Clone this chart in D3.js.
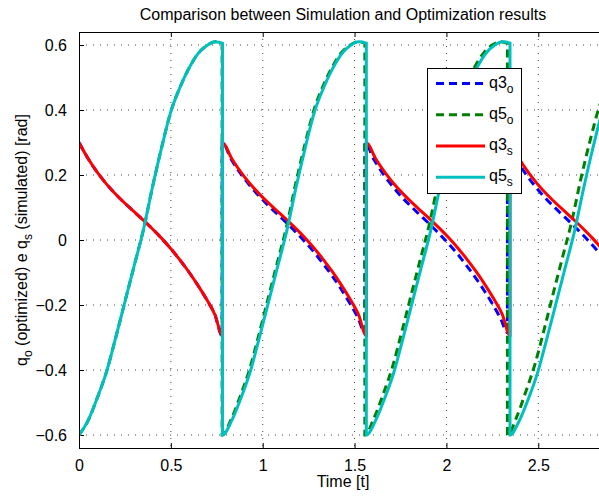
<!DOCTYPE html>
<html>
<head>
<meta charset="utf-8">
<script src="https://cdn.jsdelivr.net/npm/d3@7"></script>
<style>
  body { margin: 0; background: #fff; }
  text { font-family: "Liberation Sans", Arial, sans-serif; fill: #000; }
</style>
</head>
<body>
<svg id="chart" width="599" height="496"></svg>
<script>
// sample times inside one step (s), the last sample of each step is the impact time
const stepTau = [0, 0.05, 0.10, 0.15, 0.20, 0.25, 0.30, 0.35, 0.40, 0.45, 0.50, 0.55, 0.60, 0.65, 0.70, 0.74];

// step start / impact times
const simStart = [0, 0.781, 1.564, 2.346];
const simImpact = [0.781, 1.564, 2.346, 3.128];
const optStart = [0, 0.779, 1.556, 2.332];
const optImpact = [0.779, 1.556, 2.332, 3.109];

// values per step (16 samples at stepTau + value at impact)
const q3s = [
  [0.300, 0.250, 0.208, 0.172, 0.141, 0.113, 0.087, 0.061, 0.034, 0.005, -0.027, -0.062, -0.100, -0.142, -0.188, -0.230, -0.295],
  [0.300, 0.251, 0.209, 0.173, 0.142, 0.114, 0.088, 0.062, 0.035, 0.006, -0.026, -0.061, -0.099, -0.141, -0.187, -0.229, -0.294],
  [0.300, 0.251, 0.209, 0.173, 0.142, 0.114, 0.088, 0.062, 0.035, 0.006, -0.026, -0.061, -0.099, -0.141, -0.187, -0.229, -0.293],
  [0.300, 0.250, 0.208, 0.172, 0.141, 0.113, 0.087, 0.061, 0.034, 0.005, -0.027, -0.062, -0.100, -0.142, -0.188, -0.230, -0.295]
];
const q5s = [
  [-0.600, -0.555, -0.485, -0.405, -0.300, -0.190, -0.080, 0.030, 0.163, 0.285, 0.395, 0.470, 0.530, 0.575, 0.600, 0.610, 0.605],
  [-0.600, -0.556, -0.487, -0.407, -0.302, -0.192, -0.082, 0.028, 0.161, 0.283, 0.393, 0.468, 0.528, 0.574, 0.600, 0.610, 0.606],
  [-0.600, -0.556, -0.487, -0.407, -0.302, -0.192, -0.082, 0.028, 0.161, 0.283, 0.393, 0.468, 0.528, 0.574, 0.600, 0.610, 0.606],
  [-0.600, -0.557, -0.489, -0.409, -0.305, -0.196, -0.086, 0.024, 0.157, 0.280, 0.390, 0.466, 0.527, 0.573, 0.600, 0.610, 0.606]
];
const q3o = [
  [0.300, 0.250, 0.208, 0.172, 0.141, 0.113, 0.087, 0.061, 0.034, 0.005, -0.027, -0.062, -0.100, -0.142, -0.188, -0.230, -0.295],
  [0.300, 0.248, 0.205, 0.168, 0.136, 0.107, 0.080, 0.053, 0.025, -0.005, -0.037, -0.073, -0.111, -0.153, -0.199, -0.240, -0.285],
  [0.300, 0.247, 0.203, 0.166, 0.133, 0.104, 0.077, 0.050, 0.022, -0.008, -0.040, -0.076, -0.114, -0.156, -0.202, -0.243, -0.285],
  [0.300, 0.247, 0.203, 0.166, 0.133, 0.104, 0.077, 0.050, 0.022, -0.008, -0.040, -0.076, -0.114, -0.156, -0.202, -0.243, -0.285]
];
const q5o = [
  [-0.600, -0.555, -0.485, -0.405, -0.300, -0.190, -0.080, 0.030, 0.163, 0.285, 0.395, 0.470, 0.530, 0.575, 0.600, 0.610, 0.605],
  [-0.600, -0.551, -0.479, -0.397, -0.292, -0.181, -0.071, 0.039, 0.172, 0.292, 0.400, 0.474, 0.533, 0.577, 0.601, 0.610, 0.605],
  [-0.600, -0.548, -0.474, -0.391, -0.285, -0.174, -0.064, 0.046, 0.179, 0.298, 0.404, 0.477, 0.535, 0.578, 0.602, 0.610, 0.605],
  [-0.600, -0.545, -0.467, -0.382, -0.275, -0.163, -0.053, 0.057, 0.189, 0.306, 0.410, 0.481, 0.538, 0.580, 0.603, 0.610, 0.605]
];

const xTicks = [0, 0.5, 1, 1.5, 2, 2.5];
const yTicks = [-0.6, -0.4, -0.2, 0, 0.2, 0.4, 0.6];

const svg = d3.select('#chart');
const margin = { left: 79, top: 32, right: 607, bottom: 448 };

const x = d3.scaleLinear().domain([0, 2.874]).range([margin.left, margin.right]);
const y = d3.scaleLinear().domain([-0.64, 0.64]).range([margin.bottom, margin.top]);

// join the steps of one series into a single list of points
function buildSeries(starts, impacts, steps) {
  const pts = [];
  steps.forEach((vals, i) => {
    stepTau.forEach((tau, j) => pts.push([starts[i] + tau, vals[j]]));
    pts.push([impacts[i], vals[vals.length - 1]]);
  });
  return pts;
}

const series = [
  { name: 'q3', sub: 'o', color: '#0000ff', dash: '8,5', data: buildSeries(optStart, optImpact, q3o) },
  { name: 'q5', sub: 'o', color: '#007f00', dash: '8,5', data: buildSeries(optStart, optImpact, q5o) },
  { name: 'q3', sub: 's', color: '#ff0000', dash: null, data: buildSeries(simStart, simImpact, q3s) },
  { name: 'q5', sub: 's', color: '#00bfbf', dash: null, data: buildSeries(simStart, simImpact, q5s) }
];

svg.append('rect').attr('width', 599).attr('height', 496).attr('fill', '#fff');

svg.append('defs').append('clipPath').attr('id', 'clip')
  .append('rect')
  .attr('x', margin.left).attr('y', margin.top)
  .attr('width', margin.right - margin.left).attr('height', margin.bottom - margin.top);

// dotted grid
const grid = svg.append('g').attr('class', 'grid')
  .attr('stroke', '#444').attr('stroke-width', 1).attr('stroke-dasharray', '1,6');
grid.selectAll('.vg').data(xTicks.slice(1)).enter().append('line')
  .attr('x1', d => x(d)).attr('x2', d => x(d))
  .attr('y1', margin.top).attr('y2', margin.bottom);
grid.selectAll('.hg').data(yTicks).enter().append('line')
  .attr('y1', d => y(d)).attr('y2', d => y(d))
  .attr('x1', margin.left).attr('x2', margin.right);

// axes with inward ticks
const xAxisB = d3.axisBottom(x).tickValues(xTicks).tickSize(-5).tickPadding(12).tickFormat(d3.format('~g'));
const xAxisT = d3.axisTop(x).tickValues(xTicks).tickSize(-5).tickFormat('');
const yAxisL = d3.axisLeft(y).tickValues(yTicks).tickSize(-5).tickPadding(12).tickFormat(d3.format('.1f'));

function styleAxis(g) {
  g.select('.domain').remove();
  g.selectAll('line').attr('stroke', '#000');
  g.selectAll('text').attr('font-size', 16).attr('font-family', '"Liberation Sans", Arial, sans-serif');
}

svg.append('g').attr('transform', `translate(0,${margin.bottom})`).call(xAxisB).call(styleAxis);
svg.append('g').attr('transform', `translate(0,${margin.top})`).call(xAxisT).call(styleAxis);
svg.append('g').attr('transform', `translate(${margin.left},0)`).call(yAxisL).call(styleAxis)
  .selectAll('text').text(d => d === 0 ? '0' : d3.format('.1f')(d));

// lines
const line = d3.line().x(d => x(d[0])).y(d => y(d[1])).curve(d3.curveMonotoneX);
svg.append('g').attr('clip-path', 'url(#clip)')
  .selectAll('path').data(series).enter().append('path')
  .attr('d', d => line(d.data))
  .attr('fill', 'none')
  .attr('stroke', d => d.color)
  .attr('stroke-width', 3)
  .attr('stroke-dasharray', d => d.dash);

// frame
svg.append('rect')
  .attr('x', margin.left + 0.5).attr('y', margin.top + 0.5)
  .attr('width', margin.right - margin.left).attr('height', margin.bottom - margin.top)
  .attr('fill', 'none').attr('stroke', '#000').attr('stroke-width', 1);

// legend
const lg = svg.append('g').attr('transform', 'translate(427,68)');
lg.append('rect').attr('x', 0.5).attr('y', 0.5).attr('width', 94).attr('height', 125)
  .attr('fill', '#fff').attr('stroke', '#000');
const item = lg.selectAll('.item').data(series).enter().append('g')
  .attr('transform', (d, i) => `translate(0,${15.6 + i * 31.25})`);
item.append('line').attr('x1', 9).attr('x2', 58)
  .attr('stroke', d => d.color).attr('stroke-width', 3)
  .attr('stroke-dasharray', d => d.dash);
const lt = item.append('text').attr('x', 62).attr('y', 4).attr('font-size', 16);
lt.append('tspan').text(d => d.name);
lt.append('tspan').attr('font-size', 12).attr('dy', 5).text(d => d.sub);

// title and labels
svg.append('text').attr('x', 343).attr('y', 20).attr('text-anchor', 'middle')
  .attr('font-size', 16).text('Comparison between Simulation and Optimization results');
svg.append('text').attr('x', 343).attr('y', 487).attr('text-anchor', 'middle')
  .attr('font-size', 16).text('Time [t]');

const yl = svg.append('text').attr('transform', 'translate(27,240) rotate(-90)')
  .attr('text-anchor', 'middle').attr('font-size', 16);
yl.append('tspan').text('q');
yl.append('tspan').attr('font-size', 12).attr('dy', 5).text('o');
yl.append('tspan').attr('dy', -5).text(' (optimized) e q');
yl.append('tspan').attr('font-size', 12).attr('dy', 5).text('s');
yl.append('tspan').attr('dy', -5).text(' (simulated) [rad]');
</script>
</body>
</html>
